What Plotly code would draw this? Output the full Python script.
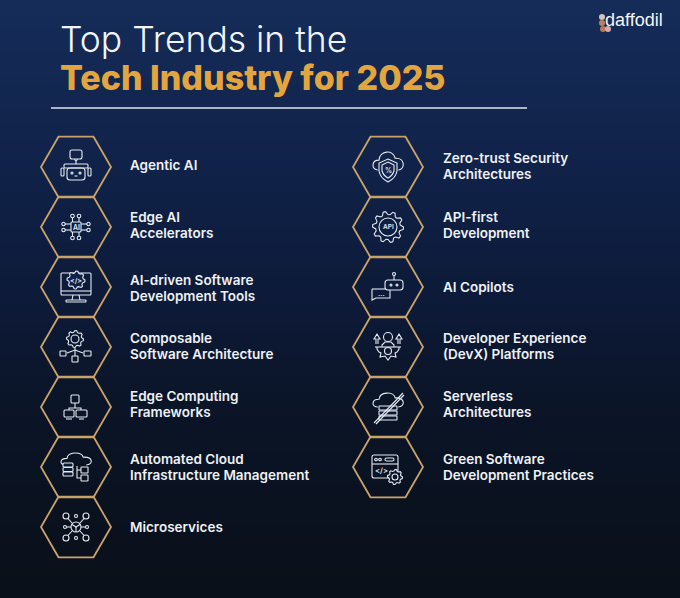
import math
import plotly.graph_objects as go

# background, read top to bottom every 100 px
bg_rows = [0, 100, 200, 300, 400, 500, 600]
bg_colors = ["#152c59", "#12264f", "#0f2045", "#0d1a38", "#0b1528", "#0a1220", "#0a1019"]

left_labels = ["Agentic AI", "Edge AI<br>Accelerators", "AI-driven Software<br>Development Tools",
               "Composable<br>Software Architecture", "Edge Computing<br>Frameworks",
               "Automated Cloud<br>Infrastructure Management", "Microservices"]
right_labels = ["Zero-trust Security<br>Architectures", "API-first<br>Development", "AI Copilots",
                "Developer Experience<br>(DevX) Platforms", "Serverless<br>Architectures",
                "Green Software<br>Development Practices"]
left_icons = ["robot", "chip", "monitor", "compose", "network", "cloud", "micro"]
right_icons = ["shield", "api", "copilot", "devx", "serverless", "green"]

ROW0, ROW_STEP = 167, 60
LEFT_X, RIGHT_X = 76, 388
LEFT_TEXT, RIGHT_TEXT = 130, 443
# text rows do not sit exactly on the hexagon rows in the original
left_text_y = [167, 227, 290, 348, 406, 469, 529]
right_text_y = [167.5, 227, 289, 348, 406, 469]
INK = "#e6eaf1"
shapes = []
icon_text = []


def path(d, fill=None):
    shapes.append(dict(type="path", path=d, xref="x", yref="y", line=dict(color=INK, width=1.1),
                       fillcolor=fill if fill else "rgba(0,0,0,0)"))


def seg(cx, cy, *pts):
    d = "M" + " L".join(f"{cx + pts[i]:.1f},{cy + pts[i + 1]:.1f}" for i in range(0, len(pts), 2))
    path(d)


def box(cx, cy, x0, y0, x1, y1, r=1, fill=None):
    x0, x1, y0, y1 = cx + x0, cx + x1, cy + y0, cy + y1
    path(f"M{x0 + r},{y0} L{x1 - r},{y0} Q{x1},{y0} {x1},{y0 + r} L{x1},{y1 - r} Q{x1},{y1} {x1 - r},{y1} "
         f"L{x0 + r},{y1} Q{x0},{y1} {x0},{y1 - r} L{x0},{y0 + r} Q{x0},{y0} {x0 + r},{y0} Z", fill)


def ring(cx, cy, x, y, r):
    shapes.append(dict(type="circle", xref="x", yref="y", x0=cx + x - r, x1=cx + x + r,
                       y0=cy + y - r, y1=cy + y + r, line=dict(color=INK, width=1.1)))


def gear(cx, cy, x, y, r, teeth=8, fill=None):
    pts = []
    for i in range(teeth * 4):
        a = 2 * math.pi * i / (teeth * 4)
        rad = r if i % 4 in (0, 1) else r * 0.8
        pts.append(f"{cx + x + rad * math.cos(a):.1f},{cy + y + rad * math.sin(a):.1f}")
    path("M" + " L".join(pts) + " Z", fill)


def cloud(cx, cy, x0, y0, x1, y1):
    w, h = x1 - x0, y1 - y0
    X = lambda f: cx + x0 + w * f
    Y = lambda f: cy + y0 + h * f
    path(f"M{X(.16)},{Y(1)} C{X(-.06)},{Y(1)} {X(-.06)},{Y(.45)} {X(.2)},{Y(.45)} "
         f"C{X(.22)},{Y(-.1)} {X(.68)},{Y(-.15)} {X(.74)},{Y(.35)} "
         f"C{X(1.08)},{Y(.3)} {X(1.08)},{Y(1)} {X(.84)},{Y(1)}")


def label(cx, cy, x, y, s, size):
    icon_text.append((cx + x, cy + y, s, size))


def robot(cx, cy):
    box(cx, cy, -6, -17, 6, -8, 2)
    seg(cx, cy, -1.5, -8, 0, -5.5, 1.5, -8)
    box(cx, cy, -9, 1, 9, 13, 3)
    ring(cx, cy, -4, 6, 1)
    ring(cx, cy, 4, 6, 1)
    seg(cx, cy, -1.5, 9, 1.5, 9)
    box(cx, cy, -12, -3, 12, 1, 1)
    seg(cx, cy, 0, -5, 0, -3)
    box(cx, cy, -15, 1, -12, 9, 1)
    box(cx, cy, 12, 1, 15, 9, 1)


def chip(cx, cy):
    box(cx, cy, -5, -5, 5, 5, 1)
    label(cx, cy, 0, 0, "AI", 7)
    for x in (-3.5, 3):
        seg(cx, cy, x, -5, x, -9)
        ring(cx, cy, x, -11, 1.8)
        seg(cx, cy, x, 5, x, 9)
        ring(cx, cy, x, 11, 1.8)
    for y in (-3, 3):
        seg(cx, cy, -5, y, -11, y)
        ring(cx, cy, -12.5, y, 1.7)
        seg(cx, cy, 5, y, 11, y)
        ring(cx, cy, 12.5, y, 1.7)


def monitor(cx, cy):
    box(cx, cy, -15, -14, 15, 8, 1)
    seg(cx, cy, -15, 4, 15, 4)
    seg(cx, cy, -3, 8, -4, 13)
    seg(cx, cy, 3, 8, 4, 13)
    box(cx, cy, -10, 13, 10, 15, 0.5)
    gear(cx, cy, 0, -7, 9, fill="#10214a")
    label(cx, cy, 0, -7, "</>", 7)


def compose(cx, cy):
    gear(cx, cy, -1, -8, 8.5)
    ring(cx, cy, -1, -8, 4)
    seg(cx, cy, -1, 1, -1, 9)
    seg(cx, cy, -9, 6, -1, 3, 7, 6)
    box(cx, cy, -16, 4, -10, 9, 0.5)
    box(cx, cy, 8, 4, 15, 9, 0.5)
    box(cx, cy, -4, 9, 2, 15, 0.5)


def network(cx, cy):
    box(cx, cy, -5, -12, 3, -4, 1)
    seg(cx, cy, -1, -4, -1, 1)
    seg(cx, cy, -7, 3, -7, 1, 5, 1, 5, 3)
    box(cx, cy, -12, 3, -2, 10, 1)
    box(cx, cy, 0, 3, 11, 10, 1)
    seg(cx, cy, -10, 12, -4, 12)
    seg(cx, cy, 3, 12, 8, 12)


def cloud_icon(cx, cy):
    cloud(cx, cy, -15, -14, 15, -2)
    for y in (-4, 0.5, 5):
        box(cx, cy, -13, y, -3, y + 4, 1, "#0a1a33")
    seg(cx, cy, 1, -1, 1, 11, 5, 11)
    seg(cx, cy, 1, 3, 5, 3)
    box(cx, cy, 5, 0, 12, 6, 0.5)
    box(cx, cy, 5, 8, 12, 14, 0.5)


def micro(cx, cy):
    ring(cx, cy, 0, 0, 5)
    seg(cx, cy, -4, -2.5, 0, 0, 4, -2.5)
    seg(cx, cy, 0, 0, 0, 5)
    for sx in (-1, 1):
        for sy in (-1, 1):
            ring(cx, cy, sx * 10, sy * 11, 3)
            seg(cx, cy, sx * 4, sy * 4, sx * 8, sy * 8.5)
    for x, y in ((0, -11), (0, 11), (-11, 0), (11, 0)):
        ring(cx, cy, x, y, 1.5)
    seg(cx, cy, -9.5, 0, -5, 0)
    seg(cx, cy, 5, 0, 9.5, 0)


def shield(cx, cy):
    cloud(cx, cy, -15, -15, 15, 3)
    path(f"M{cx},{cy - 8} L{cx + 9},{cy - 4} L{cx + 9},{cy + 4} Q{cx + 8},{cy + 11} {cx},{cy + 15} "
         f"Q{cx - 8},{cy + 11} {cx - 9},{cy + 4} L{cx - 9},{cy - 4} Z", "#12264f")
    path(f"M{cx},{cy - 5} L{cx + 6},{cy - 2} L{cx + 6},{cy + 4} Q{cx + 5},{cy + 8} {cx},{cy + 11} "
         f"Q{cx - 5},{cy + 8} {cx - 6},{cy + 4} L{cx - 6},{cy - 2} Z")
    label(cx, cy, 0, 3, "%", 7)


def api(cx, cy):
    gear(cx, cy, 0, 0, 15.5, 10)
    ring(cx, cy, 0, 0, 9)
    label(cx, cy, 0, 0, "API", 6.5)


def copilot(cx, cy):
    box(cx, cy, -3, -7, 15, 3, 3)
    ring(cx, cy, 3, -2, 1)
    ring(cx, cy, 9, -2, 1)
    seg(cx, cy, 6, -7, 6, -11)
    ring(cx, cy, 6, -13, 1.5)
    seg(cx, cy, -16, 2, -3, 2)
    path(f"M{cx - 16},{cy + 2} L{cx - 16},{cy + 13} L{cx - 12},{cy + 11} L{cx + 2},{cy + 11} L{cx + 2},{cy + 3}")
    label(cx, cy, -7, 6, "...", 7)


def devx(cx, cy):
    ring(cx, cy, 0, -10, 4.5)
    seg(cx, cy, -6, 0, -6, -2, -3, -5, 3, -5, 6, -2, 6, 0)
    seg(cx, cy, -13, 0, 13, 0)
    seg(cx, cy, -11, 0, -11, 2, -9, 5, -7, 6, -8, 10, -3, 9, 0, 13, 3, 9, 8, 10, 7, 6, 9, 5, 11, 2, 11, 0)
    ring(cx, cy, 0, 4, 3.5)
    for x in (-11, 11):
        seg(cx, cy, x - 1, -3, x - 1, -8, x - 3, -8, x, -13, x + 3, -8, x + 1, -8, x + 1, -3)


def serverless(cx, cy):
    cloud(cx, cy, -15, -14, 15, 0)
    for y in (-1, 4, 9):
        box(cx, cy, -9, y, 9, y + 4, 0.5, "#0b1730")
    seg(cx, cy, -14, 16, 15, -14)
    seg(cx, cy, -12, 17, 16, -12)


def green(cx, cy):
    box(cx, cy, -16, -12, 10, 11, 2)
    seg(cx, cy, -16, -3, 10, -3)
    ring(cx, cy, -12, -7.5, 1.3)
    ring(cx, cy, -8, -7.5, 1.3)
    box(cx, cy, -3, -9, 6, -6, 1.5)
    label(cx, cy, -7, 3, "</>", 7.5)
    gear(cx, cy, 7, 10, 7.5, fill="#0a1429")
    ring(cx, cy, 7, 10, 3)


ICONS = dict(robot=robot, chip=chip, monitor=monitor, compose=compose, network=network, cloud=cloud_icon,
             micro=micro, shield=shield, api=api, copilot=copilot, devx=devx, serverless=serverless, green=green)

left_y = [ROW0 + ROW_STEP * i for i in range(len(left_labels))]
right_y = [ROW0 + ROW_STEP * i for i in range(len(right_labels))]
for name, y in zip(left_icons, left_y):
    ICONS[name](LEFT_X, y)
for name, y in zip(right_icons, right_y):
    ICONS[name](RIGHT_X, y)

fig = go.Figure()

# vertical gradient behind everything
fig.add_trace(go.Heatmap(x=[-10, 690], y=bg_rows, z=[[i, i] for i in range(len(bg_rows))], zsmooth="best",
                         colorscale=[[i / (len(bg_colors) - 1), c] for i, c in enumerate(bg_colors)],
                         showscale=False, hoverinfo="skip"))

for xs, ys in (([LEFT_X] * len(left_y), left_y), ([RIGHT_X] * len(right_y), right_y)):
    fig.add_trace(go.Scatter(x=xs, y=ys, mode="markers", hoverinfo="skip",
                             marker=dict(symbol="hexagon2-open", size=70, color="#c9a26a", line=dict(width=1.8, color="#c9a26a"))))

# two-line labels are split so the 16 px line spacing can be kept at this font size
for tx, ys, labels in ((LEFT_TEXT, left_text_y, left_labels), (RIGHT_TEXT, right_text_y, right_labels)):
    line_y, lines = [], []
    for y, lab in zip(ys, labels):
        parts = lab.split("<br>")
        for j, part in enumerate(parts):
            line_y.append(y + (j - (len(parts) - 1) / 2) * 16)
            lines.append(part)
    fig.add_trace(go.Scatter(x=[tx] * len(lines), y=line_y, text=lines, mode="text", textposition="middle right",
                             hoverinfo="skip", textfont=dict(family="Inter", size=13.5, color="#eef1f5", weight=600)))

# logo petals
fig.add_trace(go.Scatter(x=[602, 602, 603, 608], y=[17, 23, 29, 29], mode="markers", hoverinfo="skip",
                         marker=dict(size=6, color=["#d8c2b4", "#c4805c", "#b87a58", "#d8a8b0"])))

fig.add_trace(go.Scatter(x=[60], y=[43], text=["Top Trends in the"], mode="text", textposition="middle right", hoverinfo="skip",
                         textfont=dict(family="Inter", size=35.5, color="#f1f4f8", weight=300)))
fig.add_trace(go.Scatter(x=[60], y=[81], text=["Tech Industry for 2025"], mode="text", textposition="middle right", hoverinfo="skip",
                         textfont=dict(family="Inter", size=34, color="#e3a63e", weight=800)))
fig.add_trace(go.Scatter(x=[605], y=[21], text=["daffodil"], mode="text", textposition="middle right", hoverinfo="skip",
                         textfont=dict(family="Liberation Sans", size=18, color="#f4f5f7")))

shapes.append(dict(type="line", xref="x", yref="y", x0=51, x1=527, y0=108, y1=108, line=dict(color="#dde4f0", width=1.5)))

# icon captions are annotations because filled shapes would hide trace text
annotations = [dict(x=x, y=y, text=s, xref="x", yref="y", showarrow=False, xanchor="center", yanchor="middle",
                    font=dict(family="Inter", size=size, color=INK, weight=600))
               for x, y, s, size in icon_text]

fig.update_layout(width=680, height=598, margin=dict(l=0, r=0, t=0, b=0), showlegend=False,
                  paper_bgcolor="#0d1a38", plot_bgcolor="#0d1a38", shapes=shapes, annotations=annotations,
                  xaxis=dict(range=[0, 680], visible=False, fixedrange=True),
                  yaxis=dict(range=[598, 0], visible=False, fixedrange=True))

fig.write_html("out.html", config=dict(displayModeBar=False),
               post_script="document.body.style.margin='0';document.body.style.overflow='hidden';")
